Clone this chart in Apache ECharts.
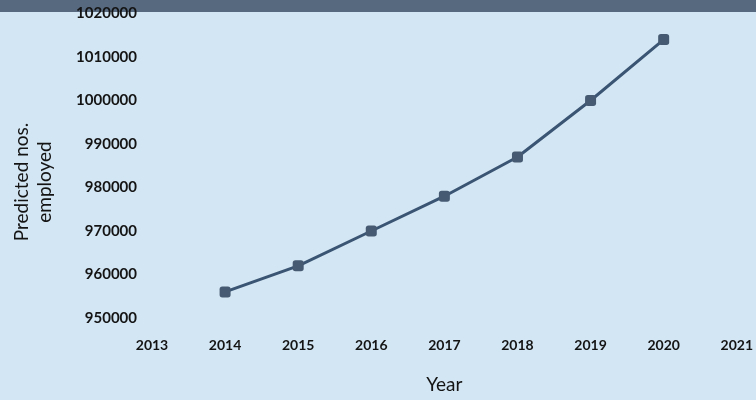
<!DOCTYPE html>
<html>
<head>
<meta charset="utf-8">
<script src="https://cdn.jsdelivr.net/npm/echarts@6/dist/echarts.min.js"></script>
<style>
  html, body { margin: 0; padding: 0; background: #d3e6f3; }
  #chart { width: 756px; height: 400px; }
</style>
</head>
<body>
<div id="chart"></div>
<script>
// Predicted employment by year
const years = [2014, 2015, 2016, 2017, 2018, 2019, 2020];
const employed = [956000, 962000, 970000, 978000, 987000, 1000000, 1014000];

const yearMin = 2013, yearMax = 2021;
const empMin = 950000, empMax = 1020000, empStep = 10000;

const points = years.map((y, i) => [y, employed[i]]);

const chart = echarts.init(document.getElementById('chart'), null, { renderer: 'canvas' });

chart.setOption({
  backgroundColor: '#d3e6f3',
  animation: false,
  grid: { left: 152, right: 17, top: 13.5, bottom: 82, containLabel: false },
  graphic: [
    // header band across the top
    { type: 'rect', left: 0, top: 0, z: 0,
      shape: { width: 756, height: 12 },
      style: { fill: '#57697f' } },
    { type: 'text', x: 33, y: 182, rotation: Math.PI / 2,
      style: { text: 'Predicted nos.\nemployed', font: '19px Lato', fill: '#141414',
               textAlign: 'center', textVerticalAlign: 'middle', lineHeight: 23 } }
  ],
  xAxis: {
    type: 'value', min: yearMin, max: yearMax, interval: 1,
    name: 'Year', nameLocation: 'middle', nameGap: 57,
    nameTextStyle: { fontFamily: 'Lato', fontSize: 19, color: '#141414' },
    axisLine: { show: false }, axisTick: { show: false }, splitLine: { show: false },
    axisLabel: { margin: 20, fontFamily: 'Lato', fontWeight: 'bold', fontSize: 14, color: '#141414',
                 formatter: v => String(v) }
  },
  yAxis: {
    type: 'value', min: empMin, max: empMax, interval: empStep,
    axisLine: { show: false }, axisTick: { show: false }, splitLine: { show: false },
    axisLabel: { margin: 15, fontFamily: 'Lato', fontWeight: 'bold', fontSize: 15, color: '#141414',
                 formatter: v => String(v) }
  },
  series: [{
    type: 'line',
    data: points,
    symbol: 'roundRect', symbolSize: 11,
    lineStyle: { color: '#3a5473', width: 3 },
    itemStyle: { color: '#465a72' }
  }]
});
</script>
</body>
</html>
